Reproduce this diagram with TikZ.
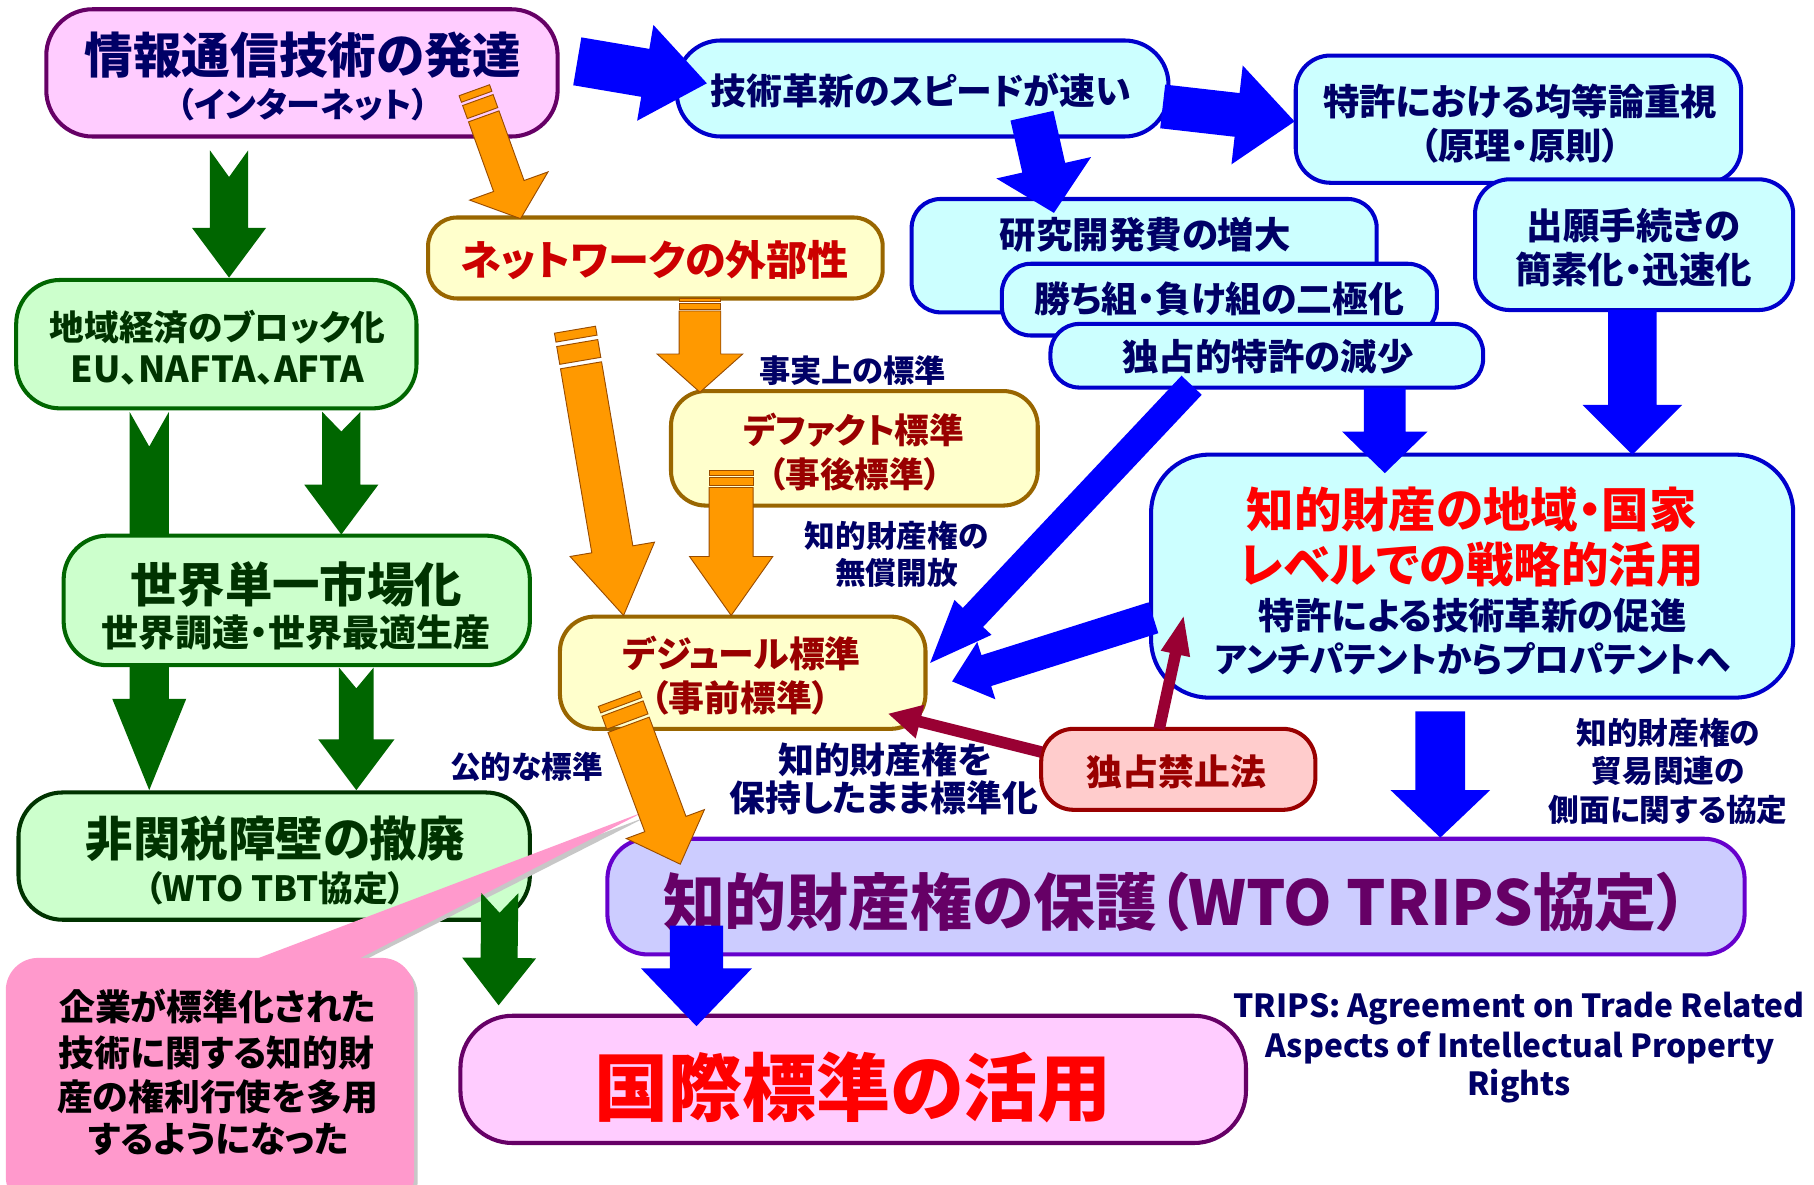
\documentclass[tikz,border=0pt]{standalone}
\usepackage{fontspec}
\setmainfont{Noto Sans CJK JP}[RawFeature=+palt]
\usetikzlibrary{calc}
\newcommand\setfs[1]{\fontsize{#1pt}{#1pt}\selectfont\bfseries}
\definecolor{navy}{HTML}{000066}
\definecolor{pinkF}{HTML}{FFCCFF}
\definecolor{purpB}{HTML}{660066}
\definecolor{cyanF}{HTML}{CCFFFF}
\definecolor{blueB}{HTML}{0000CC}
\definecolor{blueA}{HTML}{0000FF}
\definecolor{yelF}{HTML}{FFFFCC}
\definecolor{brownB}{HTML}{996600}
\definecolor{greenF}{HTML}{CCFFCC}
\definecolor{greenB}{HTML}{006600}
\definecolor{greenD}{HTML}{003300}
\definecolor{redT}{HTML}{CC0000}
\definecolor{redN}{HTML}{FF0000}
\definecolor{maroonT}{HTML}{990000}
\definecolor{roseF}{HTML}{FFCCCC}
\definecolor{lavF}{HTML}{CCCCFF}
\definecolor{violB}{HTML}{6600CC}
\definecolor{orangeF}{HTML}{FF9900}
\definecolor{orangeB}{HTML}{994C00}
\definecolor{calloutF}{HTML}{FF99CC}
\definecolor{crimsonA}{HTML}{990033}
% block arrow: [style]{tail}{tip}{shaft hw}{head hw}{head len}{notch}
\newcommand\blockarrow[7][]{%
  \coordinate (baT) at (#2);
  \coordinate (baH) at (#3);
  \coordinate (baB) at ($(baH)!#6pt!(baT)$);
  \coordinate (baN) at ($(baT)!#7pt!(baH)$);
  \path[#1] ($(baT)!#4pt!90:(baH)$) -- ($(baB)!#4pt!90:(baH)$) -- ($(baB)!#5pt!90:(baH)$) -- (baH)
     -- ($(baB)!#5pt!-90:(baH)$) -- ($(baB)!#4pt!-90:(baH)$) -- ($(baT)!#4pt!-90:(baH)$) -- (baN) -- cycle;
}
\newcommand\pencilbar[3]{%
  \path[pencil] ($(#1)!#3pt!90:(#2)$) -- ($(#2)!#3pt!-90:(#1)$) -- ($(#2)!#3pt!90:(#1)$) -- ($(#1)!#3pt!-90:(#2)$) -- cycle;
}
% pencil arrow: {tail}{tip}{shaft hw}{head hw}{head len}{stripe scale}
\newcommand\pencilarrow[6]{%
  \coordinate (peT) at (#1);
  \coordinate (peH) at (#2);
  \coordinate (peA) at ($(peT)!#6*6pt!(peH)$);
  \coordinate (peB) at ($(peT)!#6*9pt!(peH)$);
  \coordinate (peC) at ($(peT)!#6*21pt!(peH)$);
  \coordinate (peD) at ($(peT)!#6*24pt!(peH)$);
  \pencilbar{peT}{peA}{#3}
  \pencilbar{peB}{peC}{#3}
  \blockarrow[pencil]{peD}{peH}{#3}{#4}{#5}{0}
}
\tikzset{
  bx/.style={draw, line width=3.5pt, rounded corners=#1pt, inner sep=0pt},
  pinkbox/.style={bx=#1, fill=pinkF, draw=purpB},
  cyanbox/.style={bx=#1, fill=cyanF, draw=blueB},
  yelbox/.style={bx=#1, fill=yelF, draw=brownB},
  greenbox/.style={bx=#1, fill=greenF, draw=greenB},
  rosebox/.style={bx=#1, fill=roseF, draw=maroonT},
  lavbox/.style={bx=#1, fill=lavF, draw=violB},
  t/.style={inner sep=0pt, font=\setfs{#1}},
  bluearrow/.style={fill=blueA},
  greenarrow/.style={fill=greenB},
  redarrow/.style={fill=crimsonA},
  pencil/.style={fill=orangeF, draw=orangeB, line width=0.8pt, line join=miter},
}
\begin{document}
\begin{tikzpicture}[x=1pt,y=-1pt]
\fill[white] (0,0) rectangle (1568,1024);
\useasboundingbox (0,0) rectangle (1568,1024);

% arrow hidden partly under J
\coordinate (gIJlT) at (129,356); \coordinate (gIJlH) at (129,500);
\blockarrow[greenarrow]{gIJlT}{gIJlH}{17}{17}{10}{30}

% ---------- boxes ----------
\node[pinkbox=40, minimum width=442pt, minimum height=110pt] (A) at (261,63) {};
\node[t=42, text=navy] (A1) at (262,48) {情報通信技術の発達};
\node[t=29.5, text=navy] (A2) at (262,90) {（インターネット）};

\node[cyanbox=38, minimum width=425pt, minimum height=83pt] (B) at (797.5,76.5) {};
\node[t=31, text=navy] (B1) at (796,78) {技術革新のスピードが速い};

\node[cyanbox=30, minimum width=385pt, minimum height=110pt] (C) at (1312.5,103) {};
\node[t=31.5, text=navy] (C1) at (1314,88) {特許における均等論重視};
\node[t=31.5, text=navy] (C2) at (1314,126) {（原理・原則）};

\node[cyanbox=25, minimum width=402pt, minimum height=98pt] (D) at (989,221) {};
\node[t=31.5, text=navy] (D1) at (990,203) {研究開発費の増大};
\node[cyanbox=25, minimum width=376pt, minimum height=62pt] (E) at (1054,259) {};
\node[t=31, text=navy] (E1) at (1054,258) {勝ち組・負け組の二極化};
\node[cyanbox=25, minimum width=374pt, minimum height=55pt] (F) at (1095,307.5) {};
\node[t=31.5, text=navy] (F1) at (1096,308) {独占的特許の減少};

\node[cyanbox=30, minimum width=275pt, minimum height=113pt] (G) at (1412.5,211.5) {};
\node[t=31.5, text=navy] (G1) at (1412,195) {出願手続きの};
\node[t=31.5, text=navy] (G2) at (1412,233) {簡素化・迅速化};

\node[yelbox=25, minimum width=393pt, minimum height=70pt] (H) at (566.5,223) {};
\node[t=35.5, text=redT] (H1) at (566,225) {ネットワークの外部性};

\node[greenbox=38, minimum width=346pt, minimum height=111pt] (I) at (187,297.5) {};
\node[t=30, text=greenD] (I1) at (188,283) {地域経済のブロック化};
\node[t=31, text=greenD] (I2) at (188,320) {EU、NAFTA、AFTA};

\node[greenbox=38, minimum width=403pt, minimum height=112pt] (J) at (256.5,519) {};
\node[t=41, text=greenD] (J1) at (256,505) {世界単一市場化};
\node[t=32, text=greenD] (J2) at (256,547) {世界調達・世界最適生産};

\node[greenbox=38, draw=greenD, minimum width=442pt, minimum height=110pt] (K) at (237,740) {};
\node[t=41, text=greenD] (K1) at (238,725) {非関税障壁の撤廃};
\node[t=30, text=greenD] (K2) at (238,768) {（WTO TBT協定）};

\node[yelbox=30, minimum width=317pt, minimum height=99pt] (L) at (738.5,387.5) {};
\node[t=30, text=maroonT] (L1) at (738,372) {デファクト標準};
\node[t=30, text=maroonT] (L2) at (739,410) {（事後標準）};

\node[yelbox=30, minimum width=316pt, minimum height=97pt] (M) at (642,581.5) {};
\node[t=31, text=maroonT] (M1) at (641,565) {デジュール標準};
\node[t=31, text=maroonT] (M2) at (640,603) {（事前標準）};

\node[cyanbox=50, minimum width=555pt, minimum height=210pt] (N) at (1272.5,498) {};
\node[t=41, text=redN] (N1) at (1272,440) {知的財産の地域・国家};
\node[t=41, text=redN] (N2) at (1272,488) {レベルでの戦略的活用};
\node[t=31.5, text=navy] (N3) at (1273,532) {特許による技術革新の促進};
\node[t=30, text=navy] (N4) at (1273,570) {アンチパテントからプロパテントへ};

\node[rosebox=28, minimum width=237pt, minimum height=70pt] (O) at (1018.5,665) {};
\node[t=31, text=maroonT] (O1) at (1017,667) {独占禁止法};

\node[lavbox=35, minimum width=983pt, minimum height=100pt] (P) at (1016.5,775) {};
\node[t=53.5, text=purpB] (P1) at (1016,780) {知的財産権の保護（WTO TRIPS協定）};

\node[pinkbox=45, minimum width=679pt, minimum height=110pt] (Q) at (737.5,933) {};
\node[t=64, text=redN] (Q1) at (737,940) {国際標準の活用};

% ---------- callout ----------
\begin{scope}[shift={(3,4)}]
  \fill[black!22] (208,832) -- (556,702) -- (300,832) -- cycle;
  \fill[black!22, rounded corners=28pt] (5,828) rectangle (358,1045);
\end{scope}
\node[fill=calloutF, rounded corners=28pt, minimum width=353pt, minimum height=217pt, inner sep=0pt] (R) at (181.5,936.5) {};
\fill[calloutF] (208,834) -- (556,702) -- (300,834) -- cycle;
\node[t=31, text=black] (R1) at (188,870) {企業が標準化された};
\node[t=31, text=black] (R2) at (187,910) {技術に関する知的財};
\node[t=31, text=black] (R3) at (188,948) {産の権利行使を多用};
\node[t=31, text=black] (R4) at (189,985) {するようになった};

% ---------- blue arrows ----------
\coordinate (abT) at (499,53); \coordinate (abH) at (611,72);
\blockarrow[bluearrow]{abT}{abH}{21}{42}{54}{0}
\coordinate (bcT) at (1005,92); \coordinate (bcH) at (1119,105);
\blockarrow[bluearrow]{bcT}{bcH}{19}{43}{50}{0}
\coordinate (bdT) at (892,100); \coordinate (bdH) at (911,184);
\blockarrow[bluearrow]{bdT}{bdH}{19}{42}{40}{0}
\coordinate (fmT) at (1030,333); \coordinate (fmH) at (804,573);
\blockarrow[bluearrow]{fmT}{fmH}{12}{22}{54}{0}
\coordinate (nmT) at (997,534); \coordinate (nmH) at (823,589);
\blockarrow[bluearrow]{nmT}{nmH}{14}{26}{31}{0}
\coordinate (fnT) at (1197,335); \coordinate (fnH) at (1197,409);
\blockarrow[bluearrow]{fnT}{fnH}{18}{37}{36}{0}
\coordinate (gnT) at (1411,268); \coordinate (gnH) at (1411,393);
\blockarrow[bluearrow]{gnT}{gnH}{21}{43}{43}{0}
\coordinate (npT) at (1245,615); \coordinate (npH) at (1245,724);
\blockarrow[bluearrow]{npT}{npH}{21.5}{43}{41}{0}
\coordinate (pqT) at (602,800); \coordinate (pqH) at (602,887);
\blockarrow[bluearrow]{pqT}{pqH}{23}{48}{50}{0}

% ---------- red arrows ----------
\coordinate (omT) at (900,650); \coordinate (omH) at (768,617);
\blockarrow[redarrow]{omT}{omH}{5}{15}{28}{0}
\coordinate (onT) at (1002,630); \coordinate (onH) at (1023,533);
\blockarrow[redarrow]{onT}{onH}{5}{13}{33}{0}

% ---------- green arrows ----------
\coordinate (aiT) at (198,130); \coordinate (aiH) at (198,240);
\blockarrow[greenarrow]{aiT}{aiH}{16.5}{32}{43}{23}
\coordinate (ijT) at (295,356); \coordinate (ijH) at (295,462);
\blockarrow[greenarrow]{ijT}{ijH}{16.5}{32}{43}{17}
\coordinate (jklT) at (129,575); \coordinate (jklH) at (129,683);
\blockarrow[greenarrow]{jklT}{jklH}{17}{32}{79}{0}
\coordinate (jkrT) at (308,577); \coordinate (jkrH) at (308,683);
\blockarrow[greenarrow]{jkrT}{jkrH}{15}{33}{44}{18}
\coordinate (kqT) at (432,772); \coordinate (kqH) at (431,869);
\blockarrow[greenarrow]{kqT}{kqH}{16}{32}{41}{17}

% ---------- orange pencil arrows ----------
\coordinate (ahT) at (410,78); \coordinate (ahH) at (450,189);
\pencilarrow{ahT}{ahH}{14}{36}{30}{1}
\coordinate (hlT) at (605,258); \coordinate (hlH) at (605,339);
\pencilarrow{hlT}{hlH}{18}{37}{33}{0.45}
\coordinate (xmT) at (497,285); \coordinate (xmH) at (539,532);
\pencilarrow{xmT}{xmH}{18}{37}{58}{1.3}
\coordinate (lmT) at (632,407); \coordinate (lmH) at (632,532);
\pencilarrow{lmT}{lmH}{19}{36}{51}{0.6}
\coordinate (mpT) at (535,604); \coordinate (mpH) at (588,747);
\pencilarrow{mpT}{mpH}{19}{36}{37}{1}

% ---------- labels ----------
\node[t=27, text=navy] (l1) at (737,320) {事実上の標準};
\node[t=26.5, text=navy] (l2) at (775,463) {知的財産権の};
\node[t=26.5, text=navy] (l3) at (775,495) {無償開放};
\node[t=26.5, text=navy] (l4) at (455,663) {公的な標準};
\node[t=31, text=navy] (l5) at (765,657) {知的財産権を};
\node[t=31, text=navy] (l6) at (764,690) {保持したまま標準化};
\node[t=26.5, text=navy] (l7) at (1442,633) {知的財産権の};
\node[t=26.5, text=navy] (l8) at (1442,666) {貿易関連の};
\node[t=26.5, text=navy] (l9) at (1442,700) {側面に関する協定};
\node[t=27.5, text=navy] (tr1) at (1313,872) {TRIPS: Agreement on Trade Related};
\node[t=27.5, text=navy] (tr2) at (1314,906) {Aspects of Intellectual Property};
\node[t=27.5, text=navy] (tr3) at (1313,939) {Rights};
\end{tikzpicture}
\end{document}
